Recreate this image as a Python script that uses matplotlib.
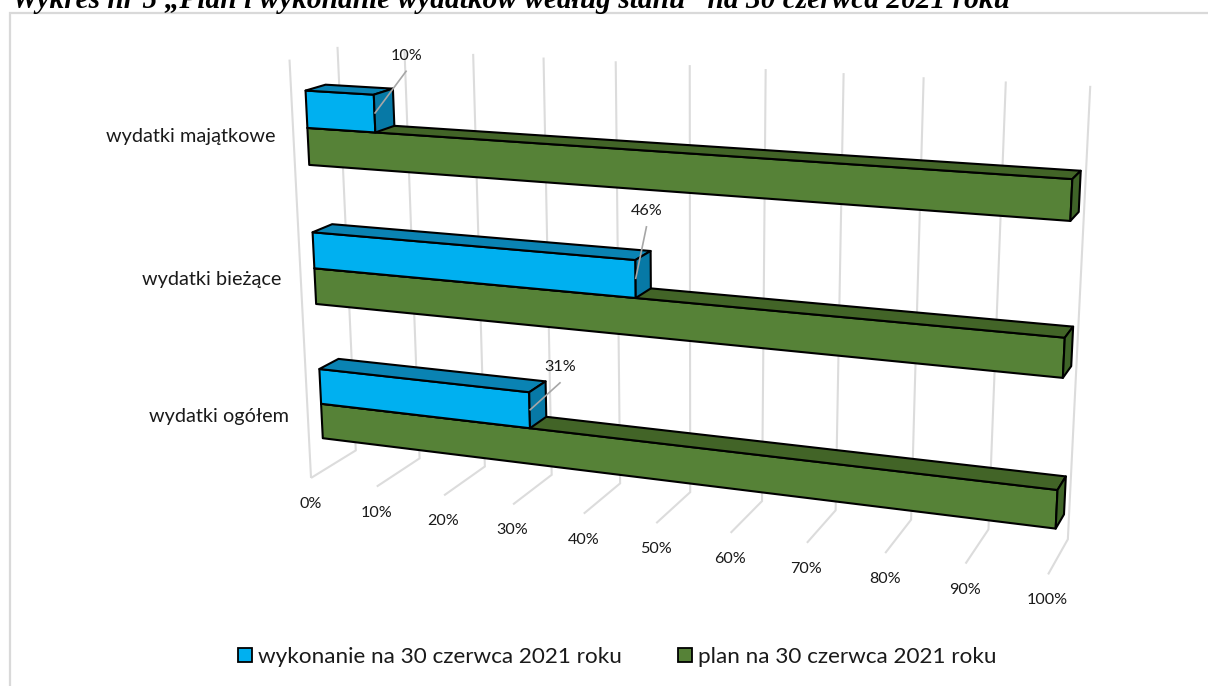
import numpy as np
import matplotlib
matplotlib.use("Agg")
import matplotlib.pyplot as plt
from matplotlib.patches import Polygon, Patch

# ---- data ----
categories = ["wydatki ogółem", "wydatki bieżące", "wydatki majątkowe"]
wykonanie = [31, 46, 10]
plan = [100, 100, 100]
series_names = ["wykonanie na 30 czerwca 2021 roku", "plan na 30 czerwca 2021 roku"]
axis_ticks = [0, 10, 20, 30, 40, 50, 60, 70, 80, 90, 100]
title = "Wykres nr 5 „Plan i wykonanie wydatków według stanu” na 30 czerwca 2021 roku"

# ---- 3D scene layout ----
D0, D1 = 0.29, 0.71        # bar depth range inside the floor
Z0, BAR_H = 0.24, 0.26     # first bar offset in its category, bar height
N = len(categories)

# camera calibration: (value, depth, height) -> picture pixel
calib = [
    ((0, 0, 0), (311, 477)), ((0, 1, 0), (356, 452)), ((100, 0, 0), (1048, 576)),
    ((100, 1, 0), (1068, 537)), ((30, 0, 0), (512, 505)), ((30, 1, 0), (552, 476)),
    ((50, 0, 0), (656, 523)), ((0, 1, 3), (337, 47)), ((100, 1, 3), (1090, 85)),
    ((0, 0, 3), (289, 59)), ((30, 1, 3), (543, 58)),
    ((0, D0, .24), (323, 438)), ((0, D0, .50), (321, 403)), ((0, D0, .76), (319, 368)),
    ((100, D0, .24), (1056, 529)), ((100, D0, .50), (1057, 489)), ((100, D1, .50), (1066, 476)),
    ((0, D0, 1.24), (316, 305)), ((0, D0, 1.50), (315, 268)), ((0, D0, 1.76), (313, 232)),
    ((0, D1, 1.76), (332, 224)), ((100, D0, 1.24), (1063, 378)), ((100, D0, 1.50), (1065, 337)),
    ((100, D1, 1.50), (1073, 327)),
    ((0, D0, 2.24), (310, 165)), ((0, D0, 2.50), (308, 128)), ((0, D0, 2.76), (306, 91)),
    ((0, D1, 2.76), (325, 84)), ((100, D0, 2.24), (1071, 222)), ((100, D0, 2.50), (1072, 180)),
    ((100, D1, 2.50), (1081, 171)),
]
A = []
for (v, d, z), (u, w) in calib:
    X = [v / 100, d, z, 1]
    A.append(X + [0, 0, 0, 0] + [-u * c for c in X])
    A.append([0, 0, 0, 0] + X + [-w * c for c in X])
P = np.linalg.svd(np.array(A, float))[2][-1].reshape(3, 4)


def proj(v, d, z):
    h = P @ np.array([v / 100, d, z, 1.0])
    return h[0] / h[2], h[1] / h[2]


# ---- figure ----
plt.rcParams["font.family"] = ["Lato", "DejaVu Sans"]
W, H = 1208, 686
fig = plt.figure(figsize=(W / 100, H / 100), dpi=100, facecolor="white")
ax = fig.add_axes([0, 0, 1, 1])
ax.set_xlim(0, W)
ax.set_ylim(H, 0)
ax.axis("off")

# outer frame (only top and left fall inside the picture)
ax.plot([9.5, 9.5, W], [H, 12.8, 12.8], color="#d9d9d9", lw=1.6, solid_joinstyle="miter", zorder=1)

# title clipped by the top edge
ax.text(12, 7.5, title, family="Liberation Serif", style="italic", weight="bold",
        fontsize=21.2, color="black", ha="left", va="baseline", zorder=5)

# grid lines
GRID = "#dcdcdc"
for t in axis_ticks:
    a, b, c = proj(t, 0, 0), proj(t, 1, 0), proj(t, 1, N)
    ax.plot([a[0], b[0], c[0]], [a[1], b[1], c[1]], color=GRID, lw=1.5, zorder=2,
            solid_capstyle="butt", solid_joinstyle="miter")
    ax.text(a[0] - 0.5, a[1] + 26, f"{t}%", ha="center", va="center", fontsize=11.6,
            color="#1a1a1a", zorder=6)
a, c = proj(0, 0, 0), proj(0, 0, N)
ax.plot([a[0], c[0]], [a[1], c[1]], color=GRID, lw=1.5, zorder=2, solid_capstyle="butt")


def box(v, zb, zt, front, top, side, z):
    corners = [
        ([proj(0, D0, zb), proj(v, D0, zb), proj(v, D0, zt), proj(0, D0, zt)], front),
        ([proj(0, D0, zt), proj(v, D0, zt), proj(v, D1, zt), proj(0, D1, zt)], top),
        ([proj(v, D0, zb), proj(v, D1, zb), proj(v, D1, zt), proj(v, D0, zt)], side),
    ]
    for pts, col in corners:
        ax.add_patch(Polygon(pts, closed=True, facecolor=col, edgecolor="black", lw=1.5,
                             joinstyle="round", zorder=z))


label_offsets = [(31, -43), (11, -68), (32, -58)]
leader_lengths = [-28, -53, -43]
cat_right = [289, 281, 275]
cat_offset_y = [13, 11, 9]

for i, name in enumerate(categories):
    zb = i + Z0
    zm = zb + BAR_H
    zt = zm + BAR_H
    box(plan[i], zb, zm, "#568237", "#426427", "#3f6428", 3 + i * 0.01)
    box(wykonanie[i], zm, zt, "#00B0F0", "#0a83b3", "#0779a6", 4 + i * 0.01)
    # category label
    lx, ly = proj(0, D0, zm)
    ax.text(cat_right[i], ly + cat_offset_y[i], name, ha="right", va="center", fontsize=14.3,
            color="#1a1a1a", zorder=6)
    # data label + leader
    ex, ey = proj(wykonanie[i], D0, zm + BAR_H / 2)
    dx, dy = label_offsets[i]
    ax.plot([ex, ex + dx], [ey, ey + leader_lengths[i]], color="#a6a6a6", lw=1.2, zorder=5,
            solid_capstyle="butt")
    ax.text(ex + dx, ey + dy, f"{wykonanie[i]}%", ha="center", va="center", fontsize=11.6,
            color="#1a1a1a", zorder=6)

# legend
FS = 16.2
px = FS * 100 / 72
handles = [Patch(facecolor="#00B0F0", edgecolor="black", lw=1.3),
           Patch(facecolor="#568237", edgecolor="black", lw=1.3)]
ax.legend(handles, series_names, loc="center", bbox_to_anchor=(617.5, 657),
          bbox_transform=ax.transData, ncol=2, frameon=False, fontsize=FS,
          handlelength=14 / px, handleheight=14 / px, handletextpad=6 / px,
          columnspacing=56 / px, borderpad=0, borderaxespad=0, labelcolor="#1a1a1a")

fig.savefig("out.png", dpi=100)
